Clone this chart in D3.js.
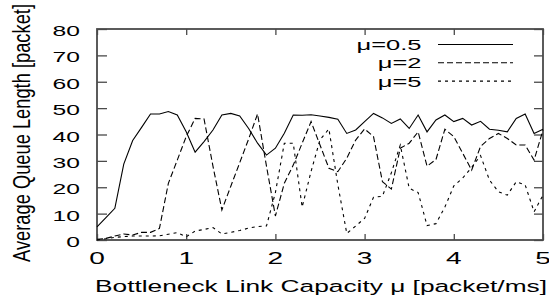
<!DOCTYPE html>
<html>
<head>
<meta charset="utf-8">
<script src="https://cdn.jsdelivr.net/npm/d3@7.9.0/dist/d3.min.js"></script>
<style>
  body { margin: 0; background: #fff; }
  text { font-family: "Liberation Sans", Arial, Helvetica, sans-serif; fill: #000; }
</style>
</head>
<body>
<svg id="chart" width="549" height="299"></svg>
<script>
// bottleneck capacity [packet/ms]
const capacity = [0, 0.1, 0.2, 0.3, 0.4, 0.5, 0.6, 0.7, 0.8, 0.9,
  1.0, 1.1, 1.2, 1.3, 1.4, 1.5, 1.6, 1.7, 1.8, 1.9,
  2.0, 2.1, 2.2, 2.3, 2.4, 2.5, 2.6, 2.7, 2.8, 2.9,
  3.0, 3.1, 3.2, 3.3, 3.4, 3.5, 3.6, 3.7, 3.8, 3.9,
  4.0, 4.1, 4.2, 4.3, 4.4, 4.5, 4.6, 4.7, 4.8, 4.9, 5.0];

// average queue length [packet]
const mu05 = [5, 8.5, 12, 28.8, 37.7, 42.7, 47.8, 47.8, 48.7, 47.4,
  41, 33.3, 37.3, 41.7, 47.4, 48, 47, 42.3, 36.7, 32.2,
  34.8, 40.5, 47.4, 47.3, 47.5, 47, 46.5, 45.8, 40.4, 41.7,
  44.9, 48, 46.3, 44.2, 45.9, 42.3, 47.4, 41, 45.5, 47.4,
  44.9, 46.1, 43.6, 45, 42, 41.6, 41, 46.1, 47.8, 40.4, 42];

const mu2 = [0.3, 0.6, 1.5, 2.3, 1.9, 2.9, 2.9, 4.4, 21.5, 30.3,
  39.2, 46.1, 45.9, 28, 11.4, 20.4, 29.3, 38.3, 47.8, 28,
  9.1, 21.5, 28.4, 36.7, 44.9, 36, 27.2, 25.9, 31, 37.9,
  42.1, 39.2, 22.1, 19.3, 34.8, 36.7, 41, 28, 30.5, 42,
  39.2, 32.9, 26.5, 35.5, 38.5, 40.4, 38.5, 36, 36, 30.3, 41.7];

const mu5 = [0, 0.5, 1, 1.3, 1.5, 1.5, 1.5, 1.6, 2.2, 2.8,
  1.2, 3.4, 4.0, 4.7, 2.3, 2.9, 3.6, 4.5, 5.1, 5.3,
  18, 36.7, 36.7, 12.5, 26, 38, 42.1, 21, 2.5, 5.3,
  8.2, 16.2, 16.6, 25.5, 36, 19.6, 18, 5.5, 6.2, 12.5,
  20.5, 23.5, 27.5, 32, 22.7, 18.3, 17, 22.1, 20.9, 10.7, 17];

const xTicks = [0, 1, 2, 3, 4, 5];
const yTicks = [0, 10, 20, 30, 40, 50, 60, 70, 80];
const seriesNames = ["\u03bc=0.5", "\u03bc=2", "\u03bc=5"];

const svg = d3.select("#chart");
const plotLeft = 97, plotRight = 543, plotTop = 29, plotBottom = 240;
const stretch = 1.7; // glyphs in the picture are wide

const x = d3.scaleLinear().domain([0, 5]).range([plotLeft, plotRight]);
const y = d3.scaleLinear().domain([0, 80]).range([plotBottom, plotTop]);

const frameColor = "#4a4a4a";

// ticks, all pointing into the plot
const axes = [
  { axis: d3.axisLeft(y).tickValues(yTicks).tickSize(-10), t: `translate(${plotLeft},0)` },
  { axis: d3.axisRight(y).tickValues(yTicks).tickSize(-9), t: `translate(${plotRight},0)` },
  { axis: d3.axisBottom(x).tickValues(xTicks).tickSize(-6), t: `translate(0,${plotBottom})` },
  { axis: d3.axisTop(x).tickValues(xTicks).tickSize(-6), t: `translate(0,${plotTop})` }
];
axes.forEach(a => {
  const g = svg.append("g")
      .attr("transform", a.t)
      .call(a.axis.tickSizeOuter(0).tickFormat(""));
  g.select(".domain").remove();
  g.selectAll(".tick line").attr("stroke", frameColor).attr("stroke-width", 1.3);
});

svg.append("rect")
    .attr("x", plotLeft)
    .attr("y", plotTop)
    .attr("width", plotRight - plotLeft)
    .attr("height", plotBottom - plotTop)
    .attr("fill", "none")
    .attr("stroke", frameColor)
    .attr("stroke-width", 1.8);

// tick labels
svg.append("g").selectAll("text")
  .data(yTicks)
  .join("text")
    .attr("transform", d => `translate(80,${y(d) + 7}) scale(${stretch},1)`)
    .attr("text-anchor", "end")
    .attr("font-size", 14.5)
    .text(d => d);

svg.append("g").selectAll("text")
  .data(xTicks)
  .join("text")
    .attr("transform", d => `translate(${x(d)},263.5) scale(${stretch},1)`)
    .attr("text-anchor", "middle")
    .attr("font-size", 16.5)
    .text(d => d);

// axis titles
svg.append("text")
    .attr("x", 321)
    .attr("y", 291.5)
    .attr("text-anchor", "middle")
    .attr("font-size", 16.3)
    .attr("textLength", 452)
    .attr("lengthAdjust", "spacingAndGlyphs")
    .text("Bottleneck Link Capacity \u03bc [packet/ms]");

svg.append("text")
    .attr("transform", "translate(30,133) scale(1.6,1) rotate(-90)")
    .attr("text-anchor", "middle")
    .attr("font-size", 15.5)
    .attr("textLength", 258)
    .attr("lengthAdjust", "spacingAndGlyphs")
    .text("Average Queue Length [packet]");

// series
const series = [
  { name: seriesNames[0], values: mu05, dash: null },
  { name: seriesNames[1], values: mu2, dash: "6,3" },
  { name: seriesNames[2], values: mu5, dash: "3,4" }
];

const line = d3.line()
    .x((d, i) => x(capacity[i]))
    .y(d => y(d));

svg.append("g").selectAll("path")
  .data(series)
  .join("path")
    .attr("fill", "none")
    .attr("stroke", "#000")
    .attr("stroke-width", 1.1)
    .attr("stroke-dasharray", d => d.dash)
    .attr("d", d => line(d.values));

// legend
const legend = svg.append("g");
series.forEach((s, i) => {
  const ly = 44.5 + i * 18.3;
  legend.append("text")
      .attr("transform", `translate(421.5,${ly + 5.5}) scale(${stretch},1)`)
      .attr("text-anchor", "end")
      .attr("font-size", 15)
      .text(s.name);
  legend.append("line")
      .attr("x1", 438)
      .attr("x2", 513)
      .attr("y1", ly)
      .attr("y2", ly)
      .attr("stroke", "#000")
      .attr("stroke-width", 1.1)
      .attr("stroke-dasharray", s.dash);
});
</script>
</body>
</html>
